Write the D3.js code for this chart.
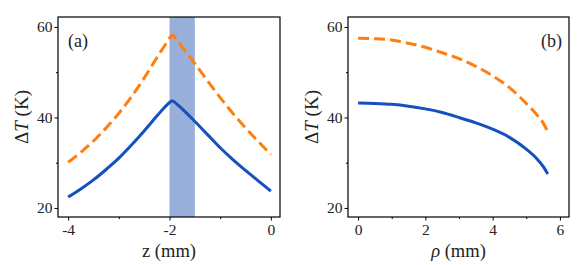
<!DOCTYPE html>
<html><head><meta charset="utf-8">
<script src="https://cdn.jsdelivr.net/npm/d3@7"></script>
<style>body{margin:0;background:#fff}svg{display:block}</style>
</head><body><svg id="c" width="581" height="265"></svg>
<script>
// Panel (a): temperature rise vs z
const zVals   = [-4, -3.75, -3.5, -3.25, -3.0, -2.75, -2.5, -2.25, -2.1, -2.0, -1.95, -1.85, -1.75, -1.5, -1.25, -1.0, -0.75, -0.5, -0.25, 0];
const blueZ   = [22.4, 24.2, 26.2, 28.5, 31.0, 33.9, 37.0, 40.3, 42.2, 43.3, 43.7, 42.9, 41.9, 39.1, 36.2, 33.3, 30.7, 28.3, 26.0, 23.7];
const orangeZ = [30.1, 32.3, 34.8, 37.7, 40.9, 44.6, 48.7, 53.2, 55.8, 57.5, 58.2, 57.0, 55.6, 51.9, 48.1, 44.4, 40.9, 37.7, 34.7, 31.8];
const band    = [-2.0, -1.5];
// Panel (b): temperature rise vs rho
const rhoVals   = [0, 0.5, 1, 1.5, 2, 2.5, 3, 3.5, 4, 4.5, 5, 5.3, 5.5, 5.64];
const blueRho   = [43.2, 43.1, 42.9, 42.5, 41.9, 41.1, 40.0, 38.8, 37.4, 35.6, 33.0, 31.0, 29.2, 27.5];
const orangeRho = [57.5, 57.4, 57.1, 56.4, 55.5, 54.3, 53.0, 51.3, 49.2, 46.6, 43.1, 40.7, 38.8, 36.8];
// ticks
const yTicks = [20, 40, 60], yMinor = [30, 50];
const zTicks = [-4, -2, 0], zMinor = [-3, -1];
const rTicks = [0, 2, 4, 6], rMinor = [1, 3, 5];

const svg = d3.select("#c");
const BLUE = "#1450c0", ORANGE = "#ff7f0e";
const FONT = "Liberation Serif";

function panel(x0, x1, xdom, xs, bs, os, xt, xm, xlabelNodes, tag, tagRight, shade) {
  const top = 17, bot = 217;
  const x = d3.scaleLinear().domain(xdom).range([x0, x1]);
  const y = d3.scaleLinear().domain([18, 62.2]).range([bot, top]);
  const g = svg.append("g");
  if (shade) {
    g.append("rect").attr("x", x(shade[0])).attr("width", x(shade[1]) - x(shade[0]))
      .attr("y", top).attr("height", bot - top).attr("fill", "#98b0d9");
  }
  const line = d3.line().x(d => x(d[0])).y(d => y(d[1])).curve(d3.curveMonotoneX);
  g.append("path").datum(xs.map((v, i) => [v, bs[i]])).attr("d", line)
    .attr("fill", "none").attr("stroke", BLUE).attr("stroke-width", 3);
  g.append("path").datum(xs.map((v, i) => [v, os[i]])).attr("d", line)
    .attr("fill", "none").attr("stroke", ORANGE).attr("stroke-width", 3).attr("stroke-dasharray", "11,5");
  // axes
  const xa = g.append("g").attr("transform", `translate(0,${bot})`)
    .call(d3.axisBottom(x).tickValues(xt).tickSize(3.5).tickPadding(3).tickFormat(d3.format("d")));
  g.append("g").attr("transform", `translate(0,${bot})`)
    .call(d3.axisBottom(x).tickValues(xm).tickSize(2).tickFormat(""));
  g.append("g").attr("transform", `translate(${x0},0)`)
    .call(d3.axisLeft(y).tickValues(yTicks).tickSize(3.5).tickPadding(2));
  g.append("g").attr("transform", `translate(${x0},0)`)
    .call(d3.axisLeft(y).tickValues(yMinor).tickSize(2).tickFormat(""));
  g.selectAll(".domain").remove();
  g.selectAll("g").attr("font-family", null).attr("font-size", null);
  g.selectAll(".tick line").attr("stroke", "#000").attr("stroke-width", 1);
  g.selectAll(".tick text").attr("font-family", FONT).attr("font-size", 15.5).attr("fill", "#222");
  xa.selectAll(".tick text").text(d => d < 0 ? "-" + Math.abs(d) : d);
  g.append("rect").attr("x", x0).attr("y", top).attr("width", x1 - x0).attr("height", bot - top)
    .attr("fill", "none").attr("stroke", "#000").attr("stroke-width", 1.2);
  // labels
  const xl = g.append("text").attr("x", (x0 + x1) / 2).attr("y", 257).attr("text-anchor", "middle")
    .attr("font-family", FONT).attr("font-size", 18.5).attr("fill", "#222");
  xlabelNodes(xl);
  const yl = g.append("text").attr("transform", `translate(${x0 - 30},${(top + bot) / 2}) rotate(-90)`)
    .attr("text-anchor", "middle").attr("font-family", FONT).attr("font-size", 19).attr("fill", "#222");
  yl.append("tspan").text("Δ");
  yl.append("tspan").attr("font-style", "italic").text("T");
  yl.append("tspan").text(" (K)");
  g.append("text").attr("x", tagRight ? x1 - 7 : x0 + 10).attr("y", 47)
    .attr("text-anchor", tagRight ? "end" : "start").attr("font-family", FONT).attr("font-size", 18)
    .attr("fill", "#222").text(tag);
}

panel(58, 280, [-4.2, 0.18], zVals, blueZ, orangeZ, zTicks, zMinor,
  t => t.text("z (mm)"), "(a)", false, band);
panel(348, 569, [-0.3, 6.27], rhoVals, blueRho, orangeRho, rTicks, rMinor,
  t => { t.append("tspan").attr("font-style", "italic").text("ρ"); t.append("tspan").text(" (mm)"); }, "(b)", true, null);
</script></body></html>
